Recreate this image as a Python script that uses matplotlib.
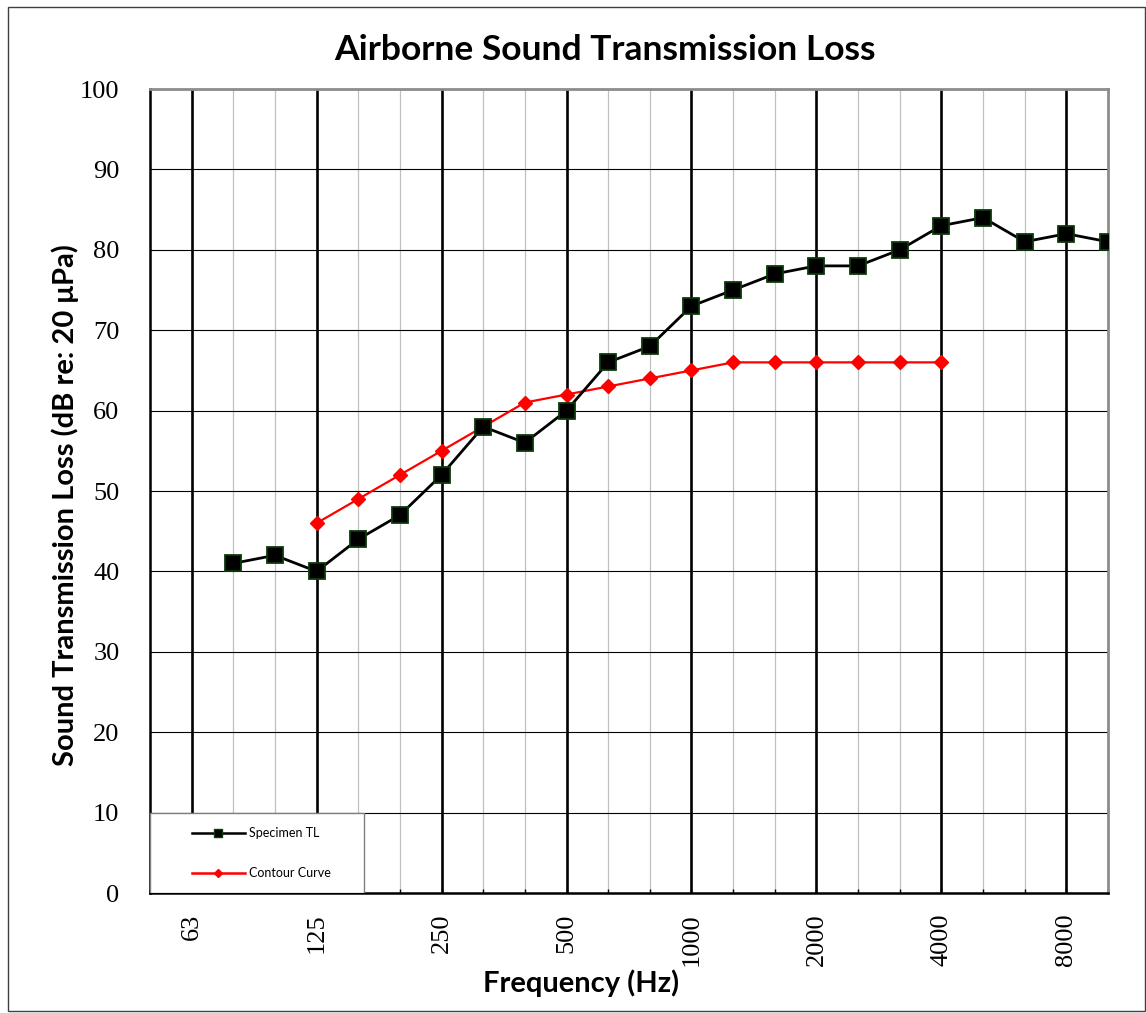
import matplotlib
matplotlib.use("Agg")
import matplotlib.pyplot as plt
from matplotlib.patches import Rectangle
from matplotlib.lines import Line2D

# ---- data ----
bands = [50, 63, 80, 100, 125, 160, 200, 250, 315, 400, 500, 630, 800,
         1000, 1250, 1600, 2000, 2500, 3150, 4000, 5000, 6300, 8000, 10000]
octave_labels = ["63", "125", "250", "500", "1000", "2000", "4000", "8000"]
octave_freqs = [63, 125, 250, 500, 1000, 2000, 4000, 8000]

specimen_freqs = [80, 100, 125, 160, 200, 250, 315, 400, 500, 630, 800, 1000,
                  1250, 1600, 2000, 2500, 3150, 4000, 5000, 6300, 8000, 10000]
specimen_tl = [41, 42, 40, 44, 47, 52, 58, 56, 60, 66, 68, 73,
               75, 77, 78, 78, 80, 83, 84, 81, 82, 81]

contour_freqs = [125, 160, 200, 250, 315, 400, 500, 630, 800, 1000,
                 1250, 1600, 2000, 2500, 3150, 4000]
contour_tl = [46, 49, 52, 55, 58, 61, 62, 63, 64, 65,
              66, 66, 66, 66, 66, 66]

y_ticks = list(range(0, 101, 10))

# ---- helpers ----
idx = {f: i for i, f in enumerate(bands)}
sx = [idx[f] for f in specimen_freqs]
cx = [idx[f] for f in contour_freqs]
ox = [idx[f] for f in octave_freqs]

W, H = 1146, 1013
fig = plt.figure(figsize=(W / 100, H / 100), dpi=100)
fig.patch.set_facecolor("white")

# figure border
fig.patches.append(Rectangle((8 / W, 2 / H), 1 - 9 / W, 1 - 9 / H,
                             transform=fig.transFigure, fill=False,
                             edgecolor="#404040", linewidth=1.0, zorder=0))

L, R, T, B = 150, 1108, 89, 893
ax = fig.add_axes([L / W, (H - B) / H, (R - L) / W, (B - T) / H])

ax.set_xlim(0, len(bands) - 1)
ax.set_ylim(0, 100)

# grid lines
for i in range(len(bands)):
    if i in ox:
        ax.axvline(i, color="black", lw=1.9, zorder=1)
    else:
        ax.axvline(i, color="#c0c0c0", lw=0.9, zorder=1)
for yv in y_ticks:
    ax.axhline(yv, color="black", lw=0.8, zorder=1)

# series
ax.plot(sx, specimen_tl, color="black", lw=2.0, marker="s", markersize=11.5,
        markerfacecolor="black", markeredgecolor="#0b3a0b", markeredgewidth=1.3,
        zorder=4, label="Specimen TL")
ax.plot(cx, contour_tl, color="#ff0000", lw=1.6, marker="D", markersize=7.5,
        markerfacecolor="#ff0000", markeredgecolor="#ff0000", zorder=3,
        label="Contour Curve")

# ticks
serif = "Liberation Serif"
ax.set_yticks(y_ticks)
ax.set_yticklabels([str(v) for v in y_ticks], fontfamily=serif, fontsize=19)
ax.tick_params(axis="y", length=0, pad=22)
ax.set_xticks(ox)
ax.set_xticklabels(octave_labels, rotation=90, fontfamily=serif, fontsize=19)
ax.set_xticks(range(len(bands)), minor=True)
ax.tick_params(axis="x", which="both", direction="in", length=3, width=1,
               pad=15, color="black")

# spines
for s in ["top", "right"]:
    ax.spines[s].set_color("#8c8c8c")
    ax.spines[s].set_linewidth(2.0)
ax.spines["left"].set_color("black")
ax.spines["left"].set_linewidth(1.8)
ax.spines["bottom"].set_color("black")
ax.spines["bottom"].set_linewidth(1.8)

# labels
bold = "Lato"
fig.text(605 / W, 1 - 50 / H, "Airborne Sound Transmission Loss",
         ha="center", va="center", fontsize=25.5, fontweight="bold", fontfamily=bold)
ax.set_xlabel("Frequency (Hz)", fontsize=21, fontweight="bold", fontfamily=bold)
ax.xaxis.set_label_coords((581 - L) / (R - L), (B - 983) / (B - T))
ax.xaxis.label.set_va("center")
ax.set_ylabel("Sound Transmission Loss (dB re: 20 μPa)", fontsize=21,
              fontweight="bold", fontfamily=bold)
ax.yaxis.set_label_coords((65 - L) / (R - L), (B - 505) / (B - T))
ax.yaxis.label.set_va("center")

# legend box (manual, bottom-left inside axes)
aw, ah = R - L, B - T
ax.add_patch(Rectangle((0, 0), 214 / aw, 80 / ah, transform=ax.transAxes,
                       facecolor="white", edgecolor="#7f7f7f", lw=1.0, zorder=5))
for ypix, label, color, mk, ms, mec in [
        (833, "Specimen TL", "black", "s", 5.5, "#0b3a0b"),
        (873, "Contour Curve", "#ff0000", "D", 4.5, "#ff0000")]:
    yy = (B - ypix) / ah
    ax.add_line(Line2D([(192 - L) / aw, (245 - L) / aw], [yy, yy],
                       transform=ax.transAxes, color=color, lw=1.8, zorder=6))
    ax.add_line(Line2D([(218 - L) / aw], [yy], transform=ax.transAxes,
                       marker=mk, markersize=ms, markerfacecolor=color,
                       markeredgecolor=mec, color=color, zorder=7))
    ax.text((249 - L) / aw, yy, label, transform=ax.transAxes, fontsize=9,
            fontfamily=bold, va="center", ha="left", zorder=7)

fig.savefig("out.png", dpi=100)
